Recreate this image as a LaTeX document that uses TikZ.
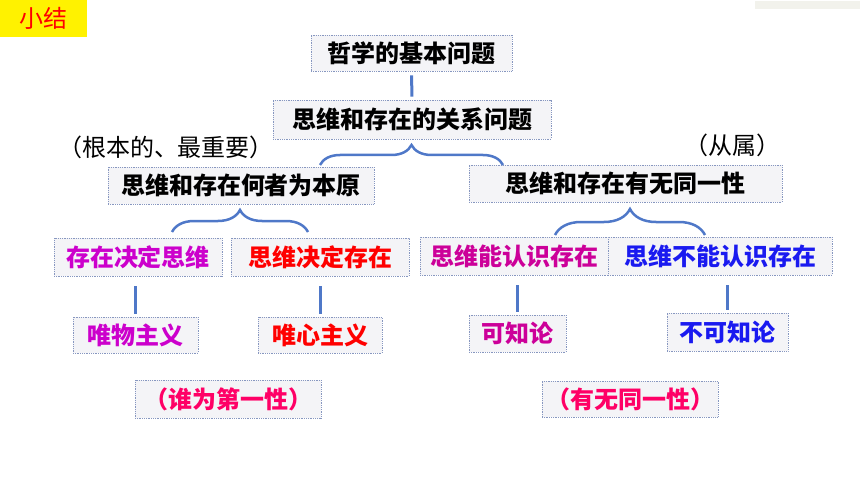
\documentclass[tikz,border=0pt]{standalone}
\usepackage{fontspec}
\usepackage{xcolor}
\usepackage{tikz}
\usetikzlibrary{positioning, calc, decorations.pathreplacing}
\newfontfamily\cjk{Noto Sans CJK SC}
\definecolor{linkblue}{HTML}{4F78C8}
\definecolor{boxline}{HTML}{8797C0}
\definecolor{boxfill}{HTML}{F4F4F7}
\definecolor{wuzhu}{HTML}{CC00CC}
\definecolor{kezhi}{HTML}{CC0099}
\definecolor{bukezhi}{HTML}{1A1AF0}
\definecolor{diyi}{HTML}{FF0066}
\definecolor{barbg}{HTML}{F2F2EC}
\tikzstyle{topic} = [rectangle, minimum height=37pt, text centered, draw=boxline, densely dotted, line width=0.8pt, fill=boxfill, inner sep=0pt, font=\cjk\bfseries\fontsize{24}{24}\selectfont]
\tikzstyle{note} = [inner sep=0pt, font=\cjk\fontsize{24}{24}\selectfont]
\tikzstyle{link} = [line width=3pt, draw=linkblue]
\tikzstyle{drop} = [link, shorten <=10pt, shorten >=3pt]
\tikzset{fork/.style={line width=2.5pt, draw=linkblue, decorate, decoration={brace, amplitude=#1}}}

\begin{document}
\begin{tikzpicture}[x=1pt, y=-1pt]
		\useasboundingbox (0,0) rectangle (860,484);
		\fill[barbg] (755,1) rectangle (860,9);
		\node (xiaojie) [anchor=north west, fill=yellow, minimum width=87pt, minimum height=37pt, inner sep=0pt, text=red, font=\cjk\fontsize{24}{24}\selectfont] at (0,0) {小结};
		\node (zhexue) [topic, minimum width=201pt, minimum height=36pt] at (411.5,53) {哲学的基本问题};
		\node (guanxi) [topic, minimum width=278pt, minimum height=39pt] at (412,119.5) {思维和存在的关系问题};
		\node (genben) [note] at (166,147) {（根本的、最重要）};
		\node (congshu) [note] at (732,145) {（从属）};
		\node (benyuan) [topic, minimum width=266pt] at (241,185.5) {思维和存在何者为本原};
		\node (tongyi) [topic, minimum width=313pt] at (625.5,183.5) {思维和存在有无同一性};
		\node (cjsw) [topic, minimum width=168pt, minimum height=38pt, text=wuzhu] at (138,257) {存在决定思维};
		\node (swjc) [topic, minimum width=178pt, minimum height=38pt, text=red] at (320,257) {思维决定存在};
		\node (nengrs) [topic, minimum width=188pt, minimum height=38pt, text=kezhi] at (514,256) {思维能认识存在};
		\node (burs) [topic, minimum width=224pt, minimum height=38pt, text=bukezhi] at (720,256) {思维不能认识存在};
		\node (weiwu) [topic, minimum width=125pt, minimum height=36pt, text=wuzhu] at (135.5,335) {唯物主义};
		\node (weixin) [topic, minimum width=124pt, minimum height=36pt, text=red] at (320,335) {唯心主义};
		\node (kzl) [topic, minimum width=97pt, text=kezhi] at (517.5,333.5) {可知论};
		\node (bkzl) [topic, minimum width=121pt, minimum height=38pt, text=bukezhi] at (727.5,332) {不可知论};
		\node (diyixing) [topic, minimum width=186pt, minimum height=38pt, text=diyi] at (228,399) {（谁为第一性）};
		\node (youwu) [topic, minimum width=176pt, minimum height=36pt, text=diyi] at (630,399) {（有无同一性）};
		\coordinate (fa1) at (320,165);
		\coordinate (fa2) at (503,165);
		\coordinate (fb1) at (172,232);
		\coordinate (fb2) at (308,232);
		\coordinate (fc1) at (555,235);
		\coordinate (fc2) at (705,235);
		\draw [link, shorten <=4pt, shorten >=3pt](zhexue) -- (guanxi);
		\draw [fork=20pt](fa1) -- (fa2);
		\draw [fork=22pt](fb1) -- (fb2);
		\draw [fork=26pt](fc1) -- (fc2);
		\draw [drop](cjsw.south -| weiwu.north) -- (weiwu.north);
		\draw [drop](swjc.south -| weixin.north) -- (weixin.north);
		\draw [drop](nengrs.south -| kzl.north) -- (kzl.north);
		\draw [drop](burs.south -| bkzl.north) -- (bkzl.north);
	\end{tikzpicture}
\end{document}
